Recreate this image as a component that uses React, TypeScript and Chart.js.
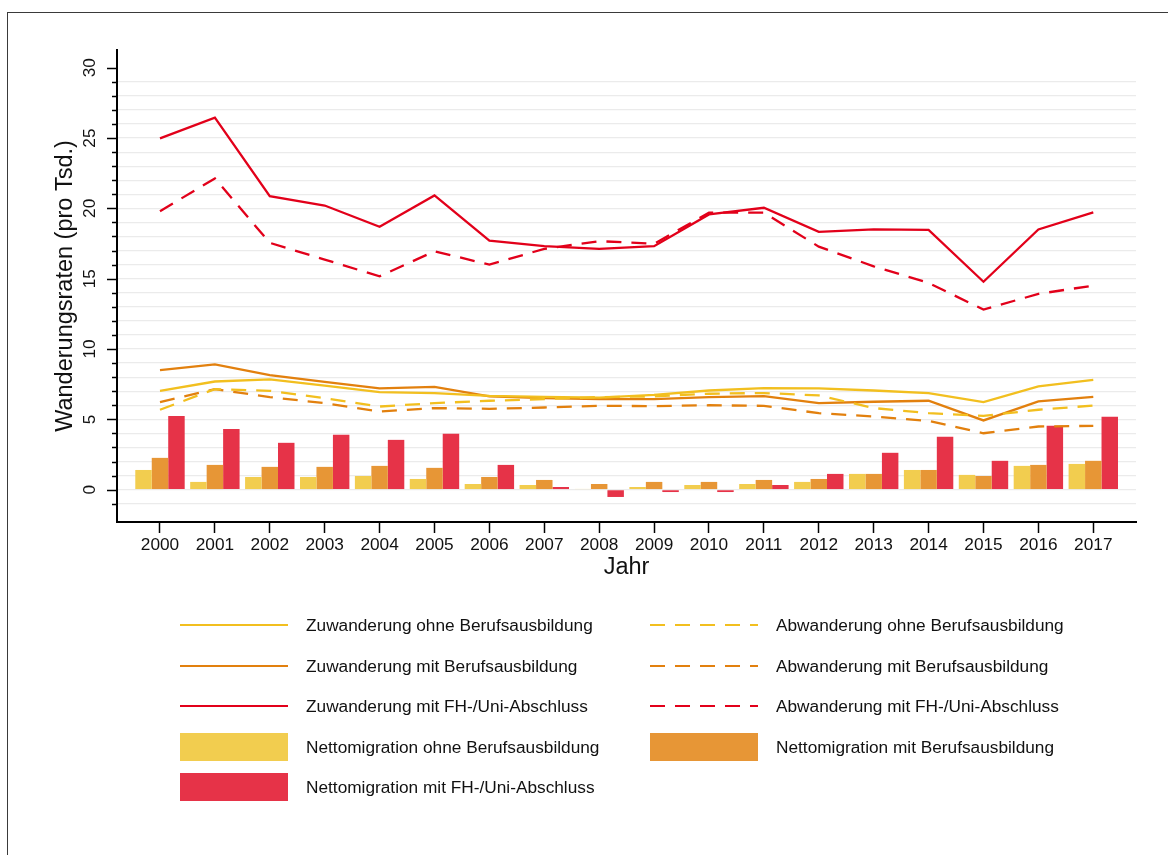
import React, { useEffect, useRef } from "react";
import { Chart, registerables } from "chart.js";

Chart.register(...registerables);

const years = [2000, 2001, 2002, 2003, 2004, 2005, 2006, 2007, 2008, 2009, 2010, 2011, 2012, 2013, 2014, 2015, 2016, 2017];

const zuOhne = [7.03, 7.69, 7.84, 7.39, 6.94, 6.87, 6.67, 6.6, 6.55, 6.74, 7.05, 7.22, 7.2, 7.05, 6.87, 6.22, 7.34, 7.81];
const zuMit = [8.5, 8.9, 8.15, 7.67, 7.2, 7.31, 6.63, 6.51, 6.44, 6.44, 6.58, 6.65, 6.15, 6.25, 6.32, 4.92, 6.27, 6.6];
const zuFH = [24.98, 26.45, 20.87, 20.2, 18.69, 20.92, 17.71, 17.31, 17.12, 17.31, 19.57, 20.04, 18.33, 18.5, 18.47, 14.78, 18.5, 19.71];
const abOhne = [5.68, 7.15, 7.03, 6.5, 5.91, 6.15, 6.32, 6.44, 6.58, 6.63, 6.82, 6.87, 6.7, 5.8, 5.44, 5.25, 5.68, 5.98];
const abMit = [6.22, 7.15, 6.58, 6.15, 5.56, 5.8, 5.75, 5.84, 5.96, 5.94, 6.0, 5.96, 5.44, 5.2, 4.89, 4.01, 4.49, 4.54];
const abFH = [19.8, 22.13, 17.55, 16.36, 15.17, 16.95, 16.0, 17.12, 17.67, 17.48, 19.69, 19.69, 17.28, 15.88, 14.7, 12.8, 13.92, 14.51];
const nettoOhne = [1.4, 0.55, 0.9, 0.9, 0.97, 0.76, 0.4, 0.33, 0.05, 0.19, 0.33, 0.4, 0.55, 1.12, 1.4, 1.05, 1.69, 1.83];
const nettoMit = [2.26, 1.76, 1.62, 1.62, 1.69, 1.55, 0.9, 0.69, 0.4, 0.55, 0.55, 0.69, 0.76, 1.12, 1.4, 0.97, 1.76, 2.05];
const nettoFH = [5.24, 4.32, 3.33, 3.9, 3.54, 3.97, 1.76, 0.19, -0.52, -0.17, -0.17, 0.33, 1.12, 2.62, 3.76, 2.05, 4.54, 5.19];

const yTickValues = [-1, 0, 1, 2, 3, 4, 5, 6, 7, 8, 9, 10, 11, 12, 13, 14, 15, 16, 17, 18, 19, 20, 21, 22, 23, 24, 25, 26, 27, 28, 29, 30];
const yLabelValues = [0, 5, 10, 15, 20, 25, 30];

const legendLeft = [
  "Zuwanderung ohne Berufsausbildung",
  "Zuwanderung mit Berufsausbildung",
  "Zuwanderung mit FH-/Uni-Abschluss",
  "Nettomigration ohne Berufsausbildung",
  "Nettomigration mit FH-/Uni-Abschluss",
];
const legendRight = [
  "Abwanderung ohne Berufsausbildung",
  "Abwanderung mit Berufsausbildung",
  "Abwanderung mit FH-/Uni-Abschluss",
  "Nettomigration mit Berufsausbildung",
];

const C_YL = "#f2bf1f";
const C_OL = "#e2800e";
const C_RL = "#e2001a";
const C_YB = "#f2cd4f";
const C_OB = "#e79636";
const C_RB = "#e63348";

const FONT = "'Liberation Sans', Arial, sans-serif";
const DASH = [15, 10];

const pts = (arr: number[]) => arr.map((v, i) => ({ x: years[i], y: v }));

const tickMarks = {
  id: "tickMarks",
  afterDraw(chart: any) {
    const ys = chart.scales.y;
    const ctx = chart.ctx;
    const left = chart.chartArea.left;
    ctx.save();
    ctx.strokeStyle = "#000";
    ctx.lineWidth = 1.5;
    yTickValues.forEach((v) => {
      const py = Math.round(ys.getPixelForValue(v)) + 0.5;
      const len = v % 5 === 0 ? 10 : 5;
      ctx.beginPath();
      ctx.moveTo(left - len, py);
      ctx.lineTo(left, py);
      ctx.stroke();
    });
    ctx.restore();
  },
};

function LegendSample({ kind, color, dashed }: { kind: string; color: string; dashed?: boolean }) {
  if (kind === "box") {
    return <div style={{ width: 108, height: 28, background: color }} />;
  }
  return (
    <svg width={108} height={4} style={{ display: "block" }}>
      <line x1={0} y1={2} x2={108} y2={2} stroke={color} strokeWidth={2.2} strokeDasharray={dashed ? "15 10" : undefined} />
    </svg>
  );
}

export default function App() {
  const ref = useRef<HTMLCanvasElement | null>(null);

  useEffect(() => {
    if (!ref.current) return;
    const lineDs = (label: string, data: number[], color: string, dashed: boolean) => ({
      type: "line" as const,
      label,
      data: pts(data),
      borderColor: color,
      backgroundColor: color,
      borderWidth: 2.3,
      borderDash: dashed ? DASH : [],
      pointRadius: 0,
      tension: 0,
      fill: false,
      order: 1,
    });
    const barDs = (label: string, data: number[], color: string) => ({
      type: "bar" as const,
      label,
      data: pts(data),
      backgroundColor: color,
      borderWidth: 0,
      categoryPercentage: 0.9,
      barPercentage: 1.0,
      order: 2,
    });
    const chart = new Chart(ref.current, {
      type: "bar",
      data: {
        datasets: [
          barDs(legendLeft[3], nettoOhne, C_YB),
          barDs(legendRight[3], nettoMit, C_OB),
          barDs(legendLeft[4], nettoFH, C_RB),
          lineDs(legendLeft[0], zuOhne, C_YL, false),
          lineDs(legendRight[0], abOhne, C_YL, true),
          lineDs(legendLeft[1], zuMit, C_OL, false),
          lineDs(legendRight[1], abMit, C_OL, true),
          lineDs(legendLeft[2], zuFH, C_RL, false),
          lineDs(legendRight[2], abFH, C_RL, true),
        ] as any,
      },
      plugins: [tickMarks],
      options: {
        animation: false,
        responsive: true,
        maintainAspectRatio: false,
        layout: { padding: { left: 47, top: 50, right: 32, bottom: 273 } },
        plugins: { legend: { display: false }, tooltip: { enabled: false } },
        scales: {
          x: {
            type: "linear",
            min: 1999.217,
            max: 2017.778,
            offset: false,
            afterBuildTicks: (s: any) => {
              s.ticks = years.map((v) => ({ value: v }));
            },
            afterFit: (s: any) => {
              s.height = 60;
            },
            grid: {
              offset: false,
              drawOnChartArea: false,
              drawTicks: true,
              tickLength: 11,
              tickColor: "#000",
              tickWidth: 1.5,
            },
            border: { display: true, color: "#000", width: 2 },
            ticks: {
              autoSkip: false,
              maxRotation: 0,
              minRotation: 0,
              padding: 2,
              color: "#111",
              font: { family: FONT, size: 17.25 },
              callback: (v: any) => String(v),
            },
            title: {
              display: true,
              text: "Jahr",
              color: "#111",
              font: { family: FONT, size: 23.5 },
              padding: { top: 0, bottom: 0 },
            },
          },
          y: {
            type: "linear",
            min: -2.3,
            max: 31.26,
            afterBuildTicks: (s: any) => {
              s.ticks = yTickValues.map((v) => ({ value: v }));
            },
            afterFit: (s: any) => {
              s.width = 70;
            },
            grid: {
              drawTicks: false,
              color: (c: any) => (c.tick && c.tick.value >= -1 && c.tick.value <= 29 ? "#ebebeb" : "rgba(0,0,0,0)"),
              lineWidth: 1.2,
            },
            border: { display: true, color: "#000", width: 2 },
            ticks: {
              autoSkip: false,
              minRotation: 90,
              maxRotation: 90,
              crossAlign: "center",
              padding: 17.5,
              color: "#111",
              font: { family: FONT, size: 17.25 },
              callback: (v: any) => (yLabelValues.includes(v) ? String(v) : ""),
            },
            title: {
              display: true,
              text: "Wanderungsraten (pro Tsd.)",
              color: "#111",
              font: { family: FONT, size: 23.5 },
              padding: { top: 4, bottom: 4 },
            },
          },
        },
      } as any,
    });
    return () => chart.destroy();
  }, []);

  const rowY = [625, 665.7, 706, 746.5, 786.5];
  const leftKinds = ["line", "line", "line", "box", "box"];
  const leftColors = [C_YL, C_OL, C_RL, C_YB, C_RB];
  const rightKinds = ["line", "line", "line", "box"];
  const rightColors = [C_YL, C_OL, C_RL, C_OB];

  const item = (text: string, kind: string, color: string, dashed: boolean, x0: number, tx: number, cy: number, key: string) => (
    <React.Fragment key={key}>
      <div style={{ position: "absolute", left: x0, top: cy - (kind === "box" ? 14 : 2), lineHeight: 0 }}>
        <LegendSample kind={kind} color={color} dashed={dashed} />
      </div>
      <div
        style={{
          position: "absolute",
          left: tx,
          top: cy - 11,
          height: 22,
          lineHeight: "22px",
          fontFamily: FONT,
          fontSize: 17.25,
          color: "#111",
          whiteSpace: "nowrap",
        }}
      >
        {text}
      </div>
    </React.Fragment>
  );

  return (
    <div style={{ position: "fixed", left: 0, top: 0, width: 1168, height: 855, background: "#fff", overflow: "hidden" }}>
      <div style={{ position: "absolute", left: 7, top: 12, width: 2000, height: 2000, borderLeft: "1px solid #3a3a3a", borderTop: "1px solid #3a3a3a" }} />
      <div style={{ position: "absolute", left: 0, top: 0, width: 1168, height: 855 }}>
        <canvas ref={ref} />
      </div>
      {legendLeft.map((t, i) => item(t, leftKinds[i], leftColors[i], false, 180, 306, rowY[i], "l" + i))}
      {legendRight.map((t, i) => item(t, rightKinds[i], rightColors[i], i < 3, 650, 776, rowY[i], "r" + i))}
    </div>
  );
}
